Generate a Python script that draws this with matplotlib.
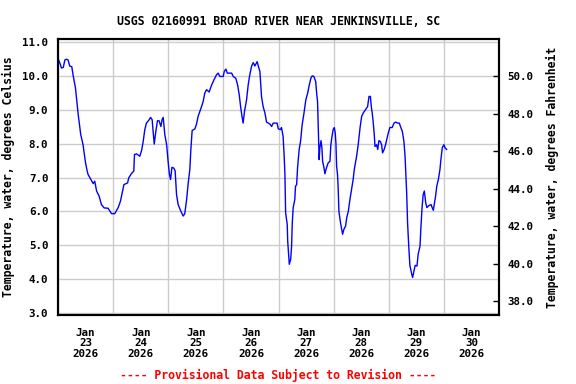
import matplotlib
matplotlib.use("Agg")
import matplotlib.pyplot as plt
import matplotlib.dates as mdates
import pandas as pd

# Hours after 2026-01-23 00:00 and water temperature (deg C)
hours = [0.0, 1.0, 1.5, 2.3, 3.0, 3.6, 4.4, 5.1, 6.0, 6.6, 7.6, 8.8, 9.9, 10.9,
         12.0, 12.7, 13.1, 14.3, 15.3, 16.0, 16.8, 17.9, 18.9, 20.1, 21.8, 23.3,
         24.7, 26.2, 27.2, 28.1, 28.7, 30.3, 30.8, 32.0, 33.0, 33.3, 34.2, 35.6,
         36.4, 37.1, 37.8, 38.5, 39.7, 40.3, 41.0, 41.4, 41.9, 42.6, 43.3, 44.0,
         44.8, 45.3, 45.8, 46.5, 47.3, 48.0, 48.5, 49.0, 49.6, 50.4, 51.0, 51.6,
         52.3, 53.5, 54.5, 55.2, 56.0, 56.7, 57.4, 57.8, 58.4, 59.6, 60.3, 61.0,
         61.8, 62.5, 63.2, 63.9, 64.7, 65.8, 66.9, 67.9, 69.0, 69.7, 70.5, 71.9,
         72.4, 73.1, 73.7, 75.6, 76.3, 77.4, 78.2, 78.9, 79.5, 80.1, 80.6, 81.2,
         82.1, 82.8, 83.5, 84.3, 85.0, 85.7, 86.7, 87.2, 87.9, 88.6, 89.3, 90.1,
         90.8, 92.3, 93.0, 93.7, 95.4, 95.9, 96.9, 97.3, 98.0, 98.5, 98.8, 99.1,
         99.8, 100.0, 100.4, 100.7, 101.3, 101.7, 102.0, 102.4, 103.1, 103.4,
         103.9, 104.3, 105.0, 105.6, 106.3, 107.1, 107.9, 108.7, 109.4, 110.1,
         110.7, 111.4, 112.2, 112.6, 113.0, 113.3, 113.6, 113.7, 114.0, 114.5,
         114.9, 115.2, 115.8, 116.2, 116.9, 117.6, 118.4, 118.8, 119.3, 119.8,
         120.3, 120.7, 121.0, 121.3, 121.7, 122.0, 122.3, 123.0, 123.5, 123.9,
         124.5, 125.2, 125.7, 126.4, 127.1, 127.8, 128.5, 129.0, 130.0, 130.7,
         131.5, 132.2, 132.9, 133.9, 134.8, 135.4, 136.0, 136.4, 136.8, 137.2,
         137.7, 138.0, 138.7, 139.2, 139.7, 140.3, 140.9, 141.3, 142.0, 142.6,
         143.1, 143.8, 144.5, 145.5, 146.3, 147.0, 147.9, 148.6, 149.3, 149.9,
         150.6, 151.1, 151.4, 151.8, 152.2, 152.7, 153.2, 154.0, 154.4, 155.0,
         155.5, 156.3, 156.8, 157.6, 158.0, 158.5, 159.0, 159.5, 160.1, 160.6,
         161.5, 162.4, 162.9, 163.4, 163.8, 164.4, 164.9, 165.6, 166.3, 166.7,
         167.3, 168.0, 168.5, 169.2]
temp_c = [10.53, 10.35, 10.24, 10.26, 10.48, 10.50, 10.48, 10.30, 10.28, 10.02,
          9.65, 8.86, 8.27, 7.97, 7.43, 7.19, 7.09, 6.94, 6.82, 6.89, 6.60, 6.45,
          6.20, 6.10, 6.09, 5.93, 5.93, 6.11, 6.30, 6.60, 6.79, 6.84, 6.99, 7.12,
          7.19, 7.68, 7.70, 7.63, 7.80, 8.07, 8.42, 8.61, 8.71, 8.78, 8.71, 8.37,
          7.99, 8.37, 8.68, 8.68, 8.51, 8.71, 8.78, 8.27, 7.97, 7.43, 7.10, 6.94,
          7.30, 7.28, 7.20, 6.50, 6.20, 6.00, 5.86, 5.93, 6.35, 6.84, 7.24, 7.78,
          8.39, 8.44, 8.58, 8.81, 8.96, 9.10, 9.25, 9.50, 9.60, 9.53, 9.74, 9.89,
          10.04, 10.09, 9.99, 9.99, 10.14, 10.21, 10.09, 10.09, 9.99, 9.94, 9.74,
          9.45, 9.10, 8.81, 8.61, 8.96, 9.30, 9.74, 10.04, 10.30, 10.40, 10.30,
          10.43, 10.30, 10.14, 9.40, 9.10, 8.91, 8.64, 8.58, 8.51, 8.61, 8.61,
          8.44, 8.42, 8.48, 8.22, 7.58, 7.09, 5.96, 5.61, 5.12, 4.70, 4.43, 4.58,
          4.97, 5.66, 6.11, 6.35, 6.74, 6.79, 7.29, 7.83, 8.07, 8.56, 8.91, 9.30,
          9.50, 9.74, 9.94, 10.01, 9.99, 9.84, 9.50, 9.25, 8.56, 7.88, 7.53, 7.88,
          8.09, 7.88, 7.48, 7.29, 7.11, 7.29, 7.43, 7.48, 7.97, 8.22, 8.42, 8.48,
          8.32, 8.02, 7.33, 7.09, 6.65, 6.00, 5.66, 5.47, 5.32, 5.47, 5.56, 5.81,
          6.00, 6.35, 6.65, 6.94, 7.24, 7.63, 7.97, 8.47, 8.81, 8.91, 9.01, 9.10,
          9.40, 9.40, 9.10, 8.91, 8.66, 8.27, 7.92, 7.97, 7.83, 8.09, 8.07, 7.97,
          7.73, 7.83, 7.97, 8.12, 8.32, 8.48, 8.48, 8.61, 8.64, 8.61, 8.61, 8.47,
          8.37, 8.07, 7.63, 7.19, 6.55, 5.66, 4.97, 4.40, 4.14, 4.04, 4.24, 4.40,
          4.38, 4.73, 4.96, 5.52, 6.11, 6.50, 6.60, 6.25, 6.11, 6.17, 6.20, 6.11,
          6.03, 6.20, 6.45, 6.74, 6.94, 7.24, 7.53, 7.88, 7.97, 7.88, 7.83]

start = pd.Timestamp("2026-01-23 00:00")
end = pd.Timestamp("2026-01-31 00:00")
times = start + pd.to_timedelta(hours, unit="h")

celsius_ticks = [3.0, 4.0, 5.0, 6.0, 7.0, 8.0, 9.0, 10.0, 11.0]
fahrenheit_ticks = [38.0, 40.0, 42.0, 44.0, 46.0, 48.0, 50.0]

plt.rcParams['font.family'] = ['DejaVu Sans Mono']
plt.rcParams['font.weight'] = 'bold'
fs = 8.3
tfs = 7.8

fig = plt.figure(figsize=(5.76, 3.84), dpi=100)
ax = fig.add_axes([58 / 576, 1 - 315 / 384, 441 / 576, 276 / 384])

ax.plot(times, temp_c, color='#0000ff', linewidth=1.0)

ymin, ymax = 2.93, 11.1
ax.set_ylim(ymin, ymax)
ax.set_xlim(start, end)
ax.set_yticks(celsius_ticks)
ax.set_yticklabels([f"{v:.1f}" for v in celsius_ticks], fontsize=tfs, fontweight='bold')
ax.tick_params(axis='y', length=0, pad=7)

# gridlines at midnight, date labels at noon
ax.xaxis.set_major_locator(mdates.DayLocator())
ax.xaxis.set_major_formatter(plt.NullFormatter())
ax.xaxis.set_minor_locator(mdates.HourLocator(byhour=[12]))
ax.xaxis.set_minor_formatter(mdates.DateFormatter("%b\n%d\n%Y"))
ax.tick_params(axis='x', which='both', length=0)
ax.tick_params(axis='x', which='minor', pad=9, labelsize=tfs)
for lbl in ax.get_xticklabels(minor=True):
    lbl.set_fontweight('bold')
    lbl.set_linespacing(1.12)

ax.grid(True, which='major', color='#cccccc', linewidth=1.0)
ax.set_axisbelow(True)
for sp in ax.spines.values():
    sp.set_linewidth(1.5)
    sp.set_color('black')

ax.set_ylabel("Temperature, water, degrees Celsius", fontsize=fs, fontweight='bold', labelpad=5)

# Fahrenheit axis on the right
ax2 = ax.twinx()
ax2.set_ylim(ymin * 1.8 + 32, ymax * 1.8 + 32)
ax2.set_yticks(fahrenheit_ticks)
ax2.set_yticklabels([f"{v:.1f}" for v in fahrenheit_ticks], fontsize=tfs, fontweight='bold')
ax2.tick_params(axis='y', direction='in', length=4, width=1, pad=6)
ax2.set_ylabel("Temperature, water, degrees Fahrenheit", fontsize=fs, fontweight='bold', labelpad=9)
for sp in ax2.spines.values():
    sp.set_linewidth(1.5)

ax.set_title("USGS 02160991 BROAD RIVER NEAR JENKINSVILLE, SC", fontsize=fs,
             fontweight='bold', pad=10)

fig.text(278 / 576, 1 - 375 / 384, "---- Provisional Data Subject to Revision ----",
         color='red', fontsize=fs, fontweight='bold', ha='center', va='center')

fig.savefig("out.png", dpi=100)
